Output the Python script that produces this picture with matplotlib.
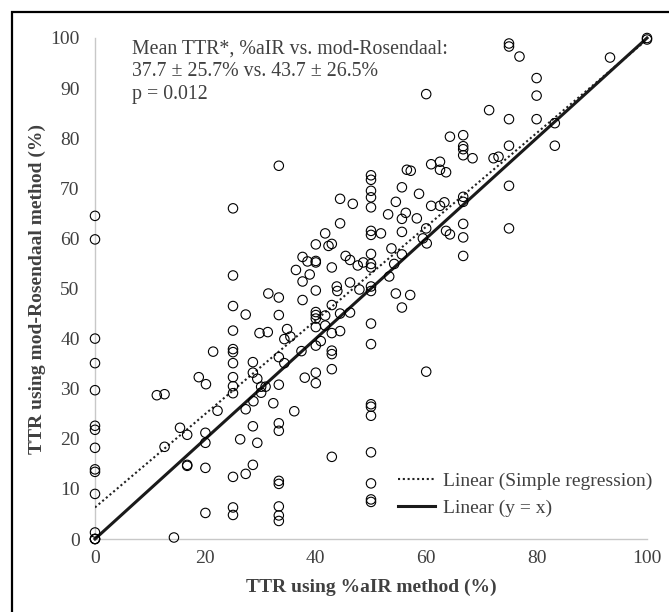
import matplotlib
matplotlib.use("Agg")
import matplotlib.pyplot as plt
from matplotlib.patches import Rectangle

plt.rcParams['font.family'] = ['Liberation Serif', 'DejaVu Serif']

# TTR (%) by %aIR method (x) and mod-Rosendaal method (y)
x_air = (
    [0] * 15
    + [11.2, 12.6, 12.6, 14.3, 15.4, 16.7, 16.7, 16.7,
       18.8, 20.1, 20, 20, 20, 20, 21.4, 22.2]
    + [25] * 13
    + [26.3, 27.3, 27.3, 27.3, 28.6, 28.6, 28.7, 28.6, 28.6, 29.4, 29.4,
       30.1, 30.1, 30.9, 29.8, 31.3, 31.4, 32.3]
    + [33.3] * 12
    + [34.3, 34.8, 34.3, 35.4, 36.1, 36.4, 37.4, 37.6, 37.6, 37.6, 38.0, 38.5, 38.9]
    + [40] * 11
    + [40.9, 41.7, 41.7, 41.7, 42.3, 42.9, 42.9, 42.9, 42.9, 42.9, 42.9, 42.9, 42.9,
       43.8, 43.9, 44.4, 44.4, 44.4, 44.4, 45.4, 46.2, 46.2, 46.2, 46.7, 47.6, 47.9, 48.6]
    + [50] * 21
    + [51.8, 53.1, 53.3, 53.7, 54.2, 54.5, 54.5, 55.6, 55.6, 55.6, 55.6, 55.6,
       56.3, 56.5, 57.2, 57.1, 58.3, 58.7, 59.4, 60.0, 60.1, 60.0, 60.0,
       60.9, 60.9, 62.5, 62.5, 62.5, 63.3, 63.6, 63.6, 64.3, 64.3]
    + [66.7] * 9
    + [68.4, 71.4, 72.2, 73.1]
    + [75] * 6
    + [76.9, 80, 80, 80, 83.3, 83.3, 93.3, 100, 100]
)
y_mod = (
    [64.5, 59.8, 40.0, 35.1, 29.7, 22.6, 21.8, 18.2, 13.9, 13.4, 9.0, 1.3, 0, 0, 0]
    + [28.7, 28.9, 18.4, 0.3, 22.2, 20.8, 14.6, 14.8,
       32.3, 30.9, 21.2, 19.2, 14.2, 5.2, 37.4, 25.6]
    + [66.0, 52.6, 46.5, 41.6, 37.9, 37.3, 35.1, 32.3, 30.5, 29.1, 12.4, 6.3, 4.8]
    + [19.9, 44.8, 25.9, 13.0, 35.3, 33.2, 27.5, 22.5, 14.8, 32.0, 19.2,
       30.4, 29.2, 30.4, 41.1, 41.3, 49.0, 27.1]
    + [74.5, 48.2, 44.7, 36.3, 30.8, 23.1, 21.6, 11.6, 11.0, 6.5, 4.7, 3.6]
    + [35.1, 41.9, 39.9, 40.4, 25.5, 53.7, 37.5, 56.3, 51.4, 47.7, 32.2, 55.4, 52.8]
    + [58.8, 55.5, 55.2, 49.6, 45.3, 44.7, 44.0, 42.3, 38.6, 33.2, 31.1]
    + [39.5, 61.0, 44.6, 42.6, 58.5, 58.9, 54.2, 46.7, 41.1, 37.6, 36.9, 33.9, 16.4,
       50.4, 49.5, 67.9, 63.0, 45.0, 41.5, 56.5, 55.7, 51.2, 45.2, 66.9, 54.6, 49.8, 55.2]
    + [72.6, 71.7, 69.5, 68.2, 66.2, 61.5, 60.7, 56.9, 54.9, 54.2, 50.4, 49.5,
       43.0, 38.9, 26.9, 26.4, 24.6, 17.3, 11.1, 7.9, 7.4]
    + [61.0, 64.8, 52.4, 58.0, 54.9, 67.3, 49.0, 70.2, 63.9, 61.3, 56.8, 46.2,
       65.1, 73.7, 73.5, 48.7, 64.0, 68.9, 60.0, 62.0, 59.0, 88.8, 33.4,
       74.8, 66.5, 75.3, 73.7, 66.5, 67.2, 73.2, 61.5, 60.8, 80.3]
    + [80.6, 78.4, 77.8, 76.6, 68.3, 67.3, 62.9, 60.2, 56.5]
    + [76.0, 85.6, 76.0, 76.3]
    + [98.9, 98.3, 83.8, 78.5, 70.5, 62.0]
    + [96.3, 92.0, 88.5, 83.8, 83.0, 78.5, 96.1, 100, 99.7]
)

# trend lines as shown on the chart
reg_intercept = 6.3
reg_slope = 0.934
line_x = [0, 100]

annotation = ("Mean TTR*, %aIR vs. mod-Rosendaal:\n"
              "37.7 \u00b1 25.7% vs. 43.7 \u00b1 26.5%\n"
              "p = 0.012")

fig = plt.figure(figsize=(6.69, 6.12), dpi=100)
ax = fig.add_axes([95 / 669, 1 - 539 / 612, 552 / 669, 501 / 612])

ax.scatter(x_air, y_mod, s=46, facecolors='none', edgecolors='black',
           linewidths=0.8, zorder=3, clip_on=False)
ax.plot(line_x, [reg_intercept + reg_slope * v for v in line_x], color='#222222',
        linestyle=(0, (1, 1.3)), linewidth=1.5, label='Linear (Simple regression)',
        zorder=2)
ax.plot(line_x, line_x, color='#1a1a1a', linewidth=2.2,
        label='Linear (y = x)', zorder=2, clip_on=False)

ax.set_xlim(0, 100)
ax.set_ylim(0, 100)
ax.set_xticks(range(0, 101, 20))
ax.set_yticks(range(0, 101, 10))
ax.tick_params(length=0, labelsize=14, colors='#404040')
ax.tick_params(axis='y', pad=11)
ax.tick_params(axis='x', pad=8)
for side in ('top', 'right'):
    ax.spines[side].set_visible(False)
for side in ('left', 'bottom'):
    ax.spines[side].set_color('#c8c8c8')
    ax.spines[side].set_linewidth(1.0)
    ax.spines[side].set_zorder(1)

ax.set_xlabel('TTR using %aIR method (%)', fontsize=14, fontweight='bold',
              color='#404040')
ax.set_ylabel('TTR using mod-Rosendaal method (%)', fontsize=14,
              fontweight='bold', color='#404040')
ax.xaxis.set_label_coords(0.5, (539 - 579) / 501)
ax.yaxis.set_label_coords(-(95 - 46) / 552, 0.5)

ax.legend(loc='upper left', bbox_to_anchor=((398 - 95) / 552, (539 - 472) / 501),
          frameon=False, fontsize=14, handlelength=1.9, handletextpad=0.4,
          labelspacing=0.5, borderpad=0, borderaxespad=0, labelcolor='#404040')

fig.text(132 / 669, 1 - 40 / 612, annotation, fontsize=14.3, color='#404040',
         va='top', ha='left', linespacing=1.25)

fig.add_artist(Rectangle((12 / 669, -0.5), 2, 0.5 + 1 - 12 / 612,
                         transform=fig.transFigure, fill=False,
                         edgecolor='black', linewidth=1.6))

fig.savefig('out.png', dpi=100)
